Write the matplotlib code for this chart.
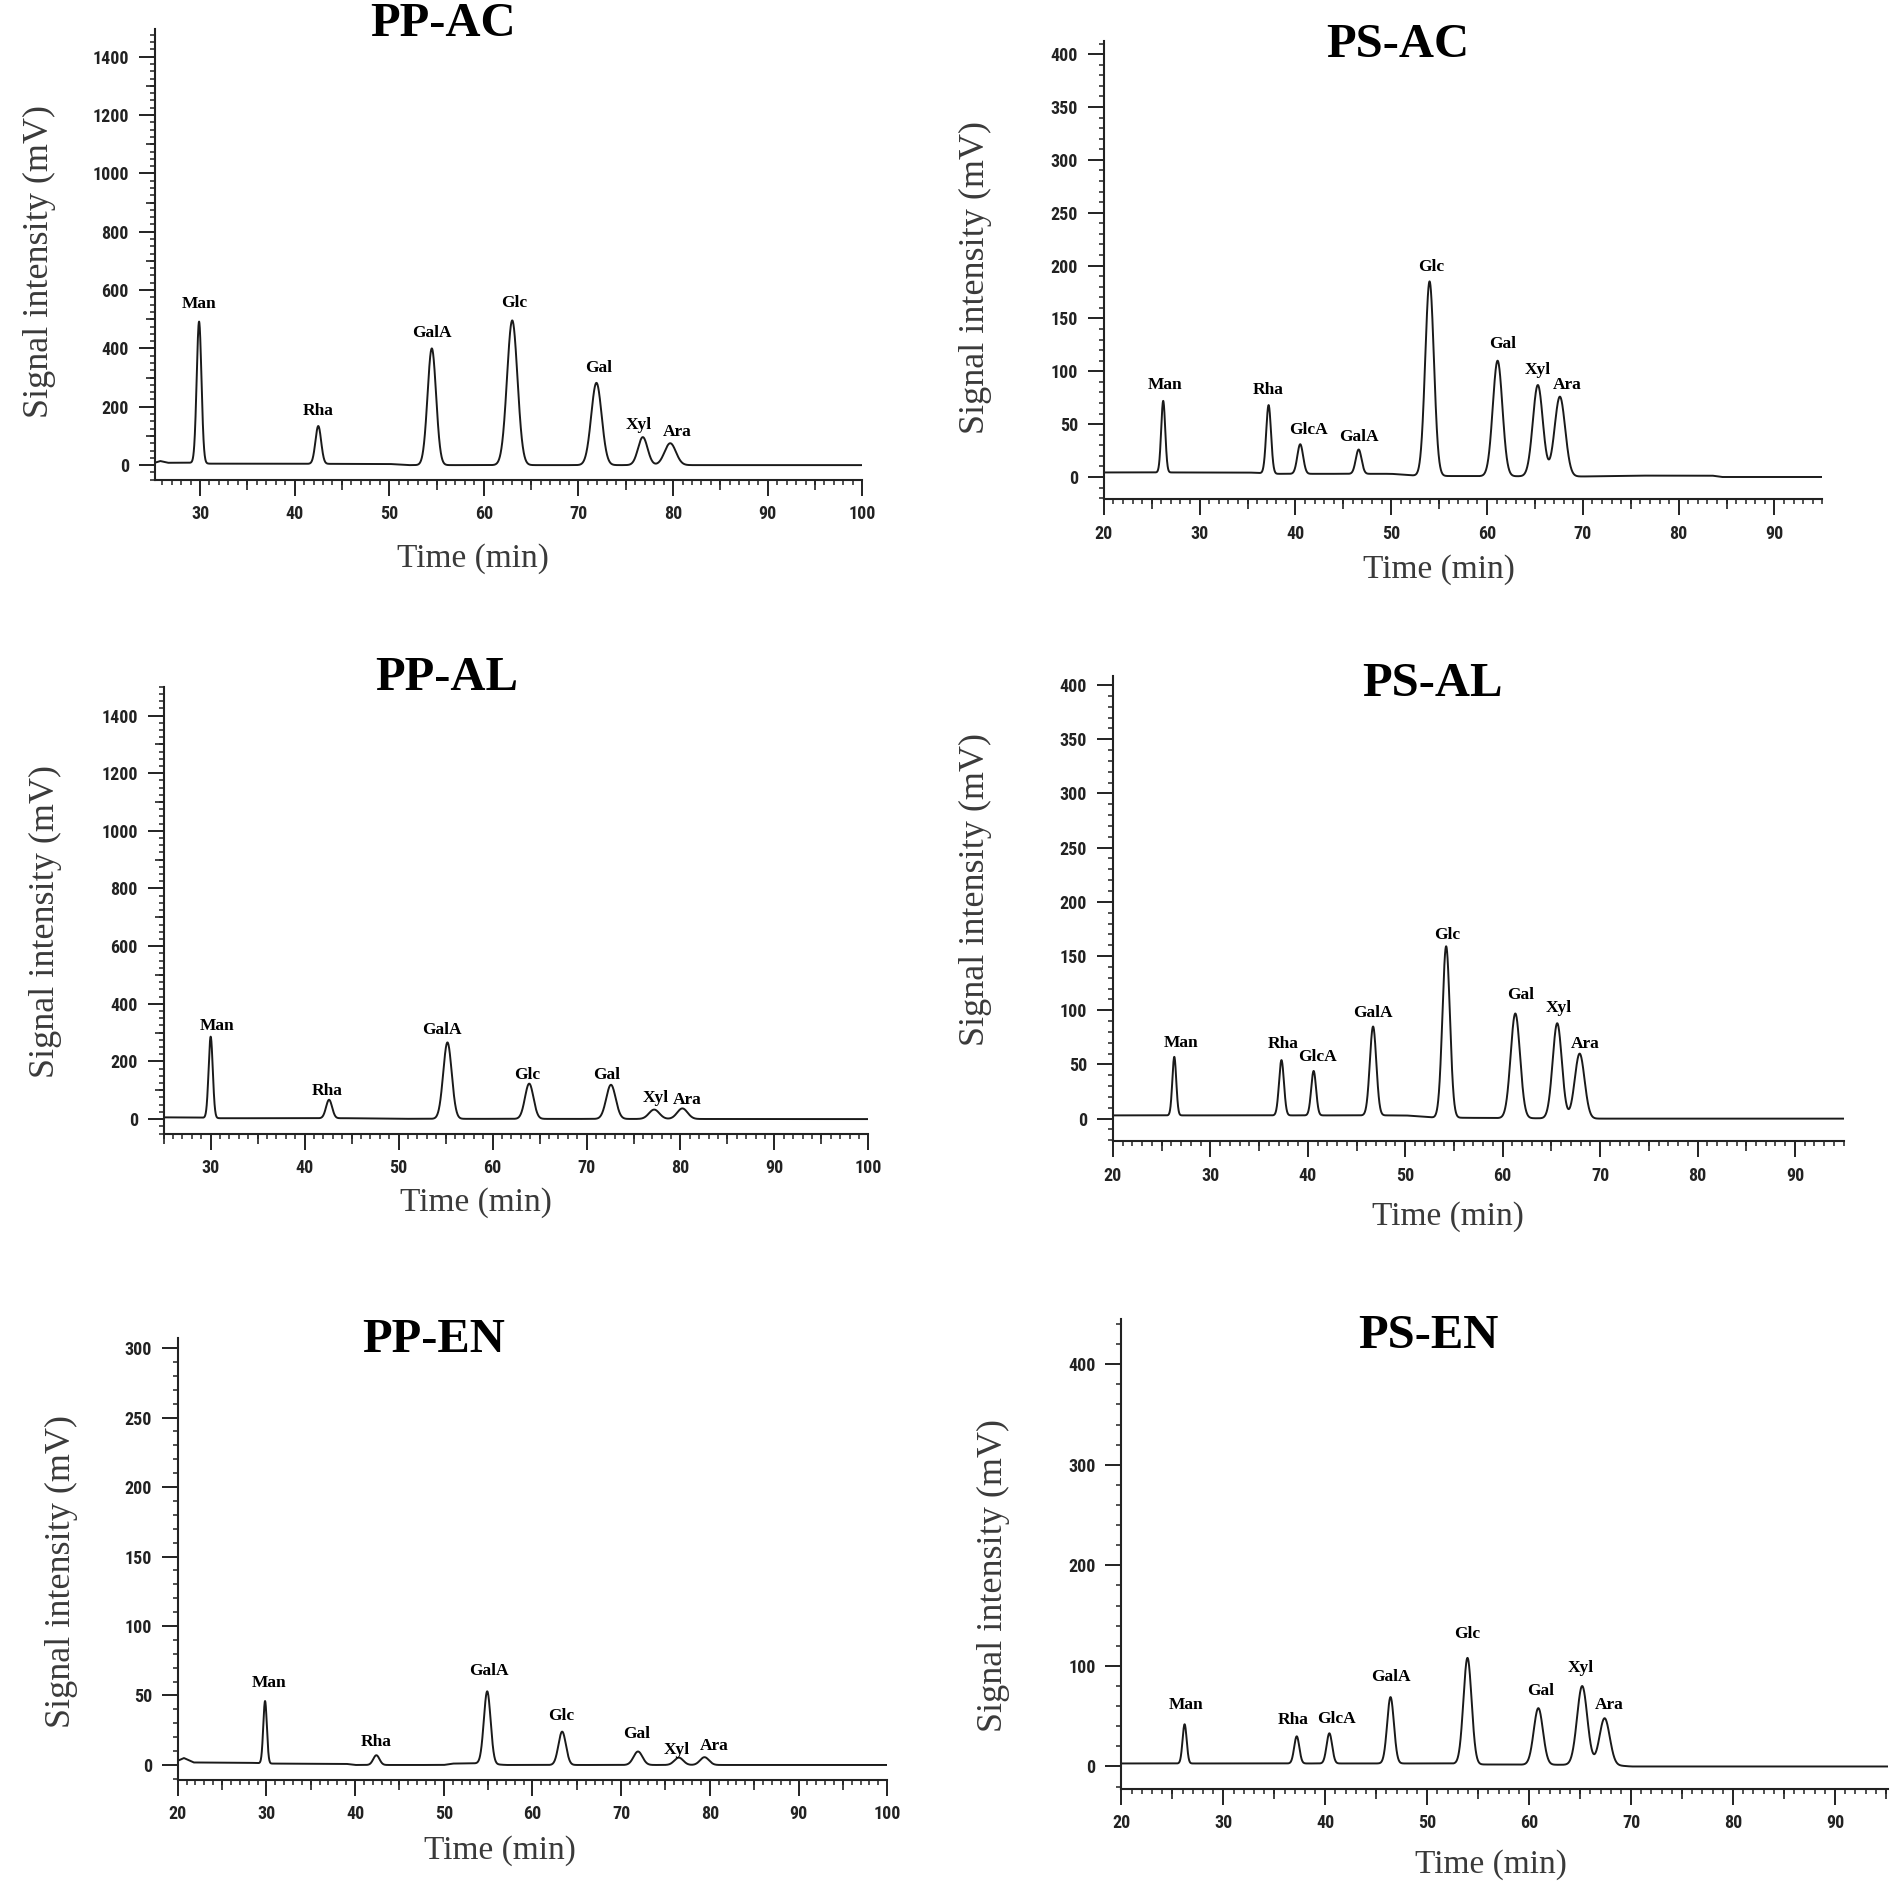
import numpy as np
import matplotlib
matplotlib.use("Agg")
import matplotlib.pyplot as plt
from matplotlib.ticker import MultipleLocator

W, H = 1902, 1897

SUGARS_PP = ["Man", "Rha", "GalA", "Glc", "Gal", "Xyl", "Ara"]
SUGARS_PS = ["Man", "Rha", "GlcA", "GalA", "Glc", "Gal", "Xyl", "Ara"]

# retention time (min), apex signal (mV), peak sigma (min)
PP_AC_TIME = [29.9, 42.5, 54.5, 63.0, 71.9, 76.8, 79.7]
PP_AC_APEX = [492, 134, 400, 496, 282, 96, 75]
PP_AC_SIGMA = [0.25, 0.3, 0.45, 0.55, 0.55, 0.5, 0.6]
PP_AC_BASE_T = [25.2, 25.8, 26.6, 29, 31, 50, 52, 100]
PP_AC_BASE_V = [8, 14, 8, 8, 5, 4, 0, 0]

PS_AC_TIME = [26.2, 37.2, 40.5, 46.6, 54.0, 61.1, 65.3, 67.6]
PS_AC_APEX = [72, 68, 31, 26, 185, 110, 87, 76]
PS_AC_SIGMA = [0.21, 0.25, 0.3, 0.3, 0.45, 0.5, 0.52, 0.55]
PS_AC_BASE_T = [20, 35, 38, 50, 53, 70, 75.5, 83.5, 84.5, 95]
PS_AC_BASE_V = [4.3, 4.3, 3, 3, 1, 0.5, 1.3, 1.3, 0, 0]

PP_AL_TIME = [30.0, 42.6, 55.2, 63.9, 72.6, 77.2, 80.2]
PP_AL_APEX = [286, 67, 266, 123, 119, 33, 37]
PP_AL_SIGMA = [0.22, 0.32, 0.45, 0.45, 0.5, 0.55, 0.55]
PP_AL_BASE_T = [25, 29, 31, 45, 50, 100]
PP_AL_BASE_V = [6, 5, 3, 3, 1, 0]

PS_AL_TIME = [26.3, 37.3, 40.6, 46.7, 54.2, 61.3, 65.6, 67.9]
PS_AL_APEX = [57, 54, 44, 85, 159, 97, 88, 60]
PS_AL_SIGMA = [0.2, 0.25, 0.25, 0.33, 0.38, 0.48, 0.47, 0.5]
PS_AL_BASE_T = [20, 50, 53, 60, 70, 95]
PS_AL_BASE_V = [3, 3, 1, 0.5, 0, 0]

PP_EN_TIME = [29.85, 42.4, 54.9, 63.35, 71.9, 76.5, 79.4]
PP_EN_APEX = [46, 7, 53, 24, 9.7, 5.3, 5.6]
PP_EN_SIGMA = [0.2, 0.35, 0.38, 0.42, 0.5, 0.5, 0.5]
PP_EN_BASE_T = [20, 20.7, 21.8, 28, 30.5, 39, 40, 50, 51, 54, 57, 100]
PP_EN_BASE_V = [3, 5, 1.8, 1.6, 1, 0.8, 0, 0, 1, 1.2, 0, 0]

PS_EN_TIME = [26.2, 37.2, 40.4, 46.4, 53.95, 60.9, 65.2, 67.4]
PS_EN_APEX = [42, 30, 33, 69, 108, 58, 80, 48]
PS_EN_SIGMA = [0.2, 0.25, 0.27, 0.33, 0.4, 0.45, 0.5, 0.5]
PS_EN_BASE_T = [20, 52, 55, 68, 70, 95]
PS_EN_BASE_V = [3, 3, 2, 1.5, 0, 0]


def trace(t, times, apex, sigma, base_t, base_v):
    y = np.interp(t, base_t, base_v)
    for t0, h, s in zip(times, apex, sigma):
        amp = h - np.interp(t0, base_t, base_v)
        y = y + amp * np.exp(-0.5 * ((t - t0) / s) ** 2)
    return y


# layout in pixels: box = (left, top, right, bottom)
panels = [
    dict(title="PP-AC", names=SUGARS_PP, times=PP_AC_TIME, apex=PP_AC_APEX, sigma=PP_AC_SIGMA,
         base_t=PP_AC_BASE_T, base_v=PP_AC_BASE_V,
         box=(154.6, 28.7, 862.3, 479.7), xlim=(25.2, 100), ylim=(-50, 1496),
         xticks=range(30, 101, 10), ymajor=200, ymid=100, yminor=25, ymax_tick=1400,
         title_xy=(443, 24), ylab_xy=(39, 261), xlab_xy=(473, 559),
         lab_dx=[0, 0, 0, 2, 2, -4, 7], lab_dy=[18, 15, 15, 17, 15, 12, 11.5]),
    dict(title="PS-AC", names=SUGARS_PS, times=PS_AC_TIME, apex=PS_AC_APEX, sigma=PS_AC_SIGMA,
         base_t=PS_AC_BASE_T, base_v=PS_AC_BASE_V,
         box=(1103.8, 41.4, 1822.4, 499.2), xlim=(20, 95), ylim=(-21, 412),
         xticks=range(20, 91, 10), ymajor=50, ymid=None, yminor=10, ymax_tick=400,
         title_xy=(1398, 45), ylab_xy=(975, 278), xlab_xy=(1439, 570),
         lab_dx=[2, 0, 8, 0, 2, 5, 0, 7], lab_dy=[16, 15, 14.5, 13, 14, 17, 15, 12]),
    dict(title="PP-AL", names=SUGARS_PP, times=PP_AL_TIME, apex=PP_AL_APEX, sigma=PP_AL_SIGMA,
         base_t=PP_AL_BASE_T, base_v=PP_AL_BASE_V,
         box=(163.7, 686.7, 868.4, 1133.5), xlim=(25, 100), ylim=(-50, 1500),
         xticks=range(30, 101, 10), ymajor=200, ymid=100, yminor=25, ymax_tick=1400,
         title_xy=(447, 678), ylab_xy=(45, 922), xlab_xy=(476, 1203),
         lab_dx=[6, -2, -6, -2, -4, 2, 5], lab_dy=[11, 9, 12, 9, 10, 12, 8]),
    dict(title="PS-AL", names=SUGARS_PS, times=PS_AL_TIME, apex=PS_AL_APEX, sigma=PS_AL_SIGMA,
         base_t=PS_AL_BASE_T, base_v=PS_AL_BASE_V,
         box=(1112.9, 676.4, 1843.7, 1141.4), xlim=(20, 95), ylim=(-21, 408),
         xticks=range(20, 91, 10), ymajor=50, ymid=None, yminor=10, ymax_tick=400,
         title_xy=(1432, 684), ylab_xy=(975, 889), xlab_xy=(1448, 1217),
         lab_dx=[7, 2, 4, 0, 1, 5, 2, 6], lab_dy=[14, 16, 14, 14, 11, 18, 15, 10]),
    dict(title="PP-EN", names=SUGARS_PP, times=PP_EN_TIME, apex=PP_EN_APEX, sigma=PP_EN_SIGMA,
         base_t=PP_EN_BASE_T, base_v=PP_EN_BASE_V,
         box=(177.7, 1338.4, 887.2, 1779.7), xlim=(20, 100), ylim=(-10.6, 307),
         xticks=range(20, 101, 10), ymajor=50, ymid=None, yminor=10, ymax_tick=300,
         title_xy=(434, 1340), ylab_xy=(61, 1571), xlab_xy=(500, 1851),
         lab_dx=[4, 0, 2, -1, -1, -2, 10], lab_dy=[18, 13, 20, 15.5, 17, 8, 11]),
    dict(title="PS-EN", names=SUGARS_PS, times=PS_EN_TIME, apex=PS_EN_APEX, sigma=PS_EN_SIGMA,
         base_t=PS_EN_BASE_T, base_v=PS_EN_BASE_V,
         box=(1121.4, 1319, 1888, 1788.6), xlim=(20, 95.2), ylim=(-22, 445),
         xticks=range(20, 91, 10), ymajor=100, ymid=None, yminor=20, ymax_tick=400,
         title_xy=(1428, 1336), ylab_xy=(993, 1575), xlab_xy=(1491, 1865),
         lab_dx=[1, -4, 7, 0, 0, 2, -1, 5], lab_dy=[19, 16, 14, 20, 24, 17, 18, 13.5]),
]

SERIF = "Liberation Serif"
TICKFONT = ["Roboto Condensed", "Liberation Sans Narrow", "Roboto", "DejaVu Sans"]
PX = 0.72  # points per pixel at dpi 100
INK = "#222222"

fig = plt.figure(figsize=(W / 100, H / 100), dpi=100)

for p in panels:
    l, t, r, b = p["box"]
    ax = fig.add_axes([l / W, 1 - b / H, (r - l) / W, (b - t) / H])

    tt = np.linspace(p["xlim"][0], p["xlim"][1], 6000)
    sig = trace(tt, p["times"], p["apex"], p["sigma"], p["base_t"], p["base_v"])
    ax.plot(tt, sig, color="#1a1a1a", lw=1.4)

    for name, t0, h, dx, dy in zip(p["names"], p["times"], p["apex"], p["lab_dx"], p["lab_dy"]):
        ax.annotate(name, (t0, h), xytext=(dx * PX, dy * PX), textcoords="offset points",
                    ha="center", va="center", family=SERIF, fontweight="bold", fontsize=12.5)

    ax.set_xlim(*p["xlim"])
    ax.set_ylim(*p["ylim"])
    for side in ("top", "right"):
        ax.spines[side].set_visible(False)
    for side in ("left", "bottom"):
        ax.spines[side].set_linewidth(1.5)
        ax.spines[side].set_color(INK)

    ax.set_xticks(list(p["xticks"]))
    ax.xaxis.set_minor_locator(MultipleLocator(1))
    ax.set_yticks(np.arange(0, p["ymax_tick"] + 1, p["ymajor"]))
    ax.yaxis.set_minor_locator(MultipleLocator(p["yminor"]))
    ax.tick_params(axis="both", which="major", direction="out", length=16 * PX, width=1.4,
                   color=INK, labelsize=13, labelcolor=INK, labelfontfamily=TICKFONT)
    ax.tick_params(axis="x", which="major", pad=7)
    ax.tick_params(axis="y", which="major", pad=7)
    ax.tick_params(axis="both", which="minor", direction="out", length=5 * PX, width=1.1,
                   color=INK)
    plt.setp(ax.get_xticklabels() + ax.get_yticklabels(), fontweight="bold")

    # medium ticks every 5 min on the time axis (and half majors on PP signal axis)
    sec = ax.secondary_xaxis("bottom")
    x5 = [v + 5 for v in p["xticks"] if v + 5 < p["xlim"][1]]
    if p["xlim"][0] <= p["xticks"][0] - 5:
        x5.insert(0, p["xticks"][0] - 5)
    sec.set_xticks(x5)
    sec.tick_params(direction="out", length=10 * PX, width=1.2, color=INK, labelbottom=False)
    sec.spines["bottom"].set_visible(False)
    if p["ymid"]:
        secy = ax.secondary_yaxis("left")
        secy.set_yticks(np.arange(p["ymid"], p["ymax_tick"], p["ymajor"]))
        secy.tick_params(direction="out", length=9 * PX, width=1.2, color=INK, labelleft=False)
        secy.spines["left"].set_visible(False)

    fig.text(p["title_xy"][0] / W, 1 - p["title_xy"][1] / H, p["title"], ha="center", va="center",
             family=SERIF, fontweight="bold", fontsize=35)
    fig.text(p["ylab_xy"][0] / W, 1 - p["ylab_xy"][1] / H, "Signal intensity (mV)", rotation=90,
             ha="center", va="center", family=SERIF, fontsize=26, color="#3a3a3a")
    fig.text(p["xlab_xy"][0] / W, 1 - p["xlab_xy"][1] / H, "Time (min)", ha="center", va="center",
             family=SERIF, fontsize=24, color="#3a3a3a")

fig.savefig("out.png", dpi=100, facecolor="white")
